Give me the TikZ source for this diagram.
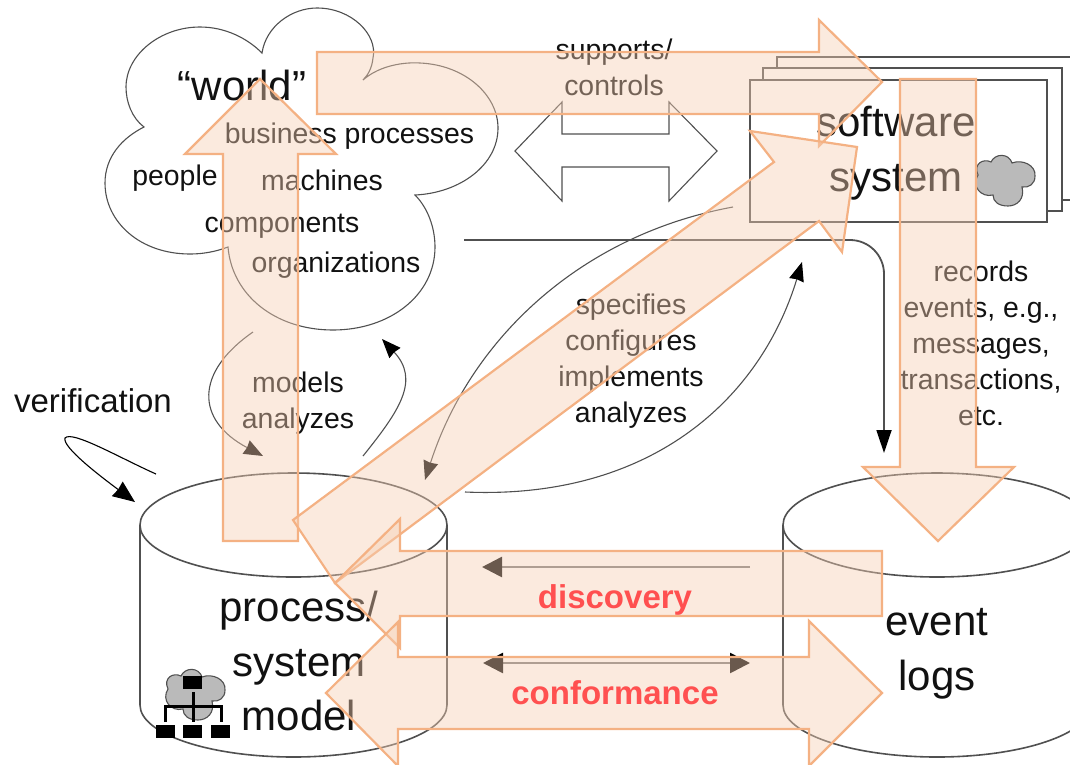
\documentclass[tikz,border=0pt]{standalone}
\usepackage{fontspec}
\setmainfont{Liberation Sans}
\usetikzlibrary{arrows.meta}
\definecolor{txt}{HTML}{111111}
\definecolor{lineg}{HTML}{505050}
\definecolor{midg}{HTML}{7A7A7A}
\definecolor{orangeline}{HTML}{F4B183}
\definecolor{orangefill}{HTML}{F6CFB3}
\definecolor{redlabel}{HTML}{FF5050}
\tikzset{
  outl/.style={draw=lineg,line width=1.1pt},
  big/.style={draw=lineg,line width=1.6pt,fill=white},
  lab/.style={inner sep=0pt,text=txt,align=center,font=\fontsize{28.4}{36}\selectfont},
  biglab/.style={inner sep=0pt,text=txt,align=center,font=\fontsize{42}{54.5}\selectfont},
  redlab/.style={inner sep=0pt,text=redlabel,anchor=base,font=\bfseries\fontsize{33}{36}\selectfont},
  conn/.style={draw=lineg,line width=1.1pt,-{Stealth[length=19pt,width=15pt,inset=1pt,color=black]}},
  thick conn/.style={draw=midg,line width=2.6pt},
  thick tip/.style={arrows={-{Stealth[length=20pt,width=20pt,inset=0pt,color=black]}}},
  both tips/.style={arrows={{Stealth[length=20pt,width=20pt,inset=0pt,color=black]}-{Stealth[length=20pt,width=20pt,inset=0pt,color=black]}}},
  bigarrow/.style={draw=orangeline,line width=2.2pt,line join=miter,fill=orangefill,fill opacity=.43},
  graycloud/.style={draw=lineg,line width=1.1pt,fill=black!27},
  orgbox/.style={fill=black}
}
\newcommand{\iconcloud}{(3,19) .. controls (-2,8) and (8,2) .. (16,6)
  .. controls (20,-3) and (34,-3) .. (37,7)
  .. controls (47,3) and (61,9) .. (60,20)
  .. controls (60,28) and (54,32) .. (47,31)
  .. controls (50,43) and (42,50) .. (33,50)
  .. controls (24,50) and (18,46) .. (18,39)
  .. controls (6,42) and (-4,30) .. (3,19) -- cycle}
\begin{document}
\begin{tikzpicture}[x=1pt,y=-1pt]
\useasboundingbox (0,0) rectangle (1070,764);
\begin{scope}
\clip (0,0) rectangle (1070,764);
% cloud
\draw[outl,fill=white] (262,53) .. controls (266,26) and (292,8) .. (317,8)
  .. controls (352,8) and (378,35) .. (373,58) .. controls (372,68) and (368,75) .. (363,80)
  .. controls (380,65) and (405,62) .. (420,63) .. controls (465,65) and (498,95) .. (498,128)
  .. controls (498,165) and (460,193) .. (415,195)
  .. controls (428,208) and (435,228) .. (435,247) .. controls (435,295) and (390,330) .. (333,330)
  .. controls (275,330) and (232,295) .. (228,247)
  .. controls (215,252) and (202,254) .. (190,254) .. controls (140,254) and (105,222) .. (105,183)
  .. controls (105,157) and (122,138) .. (144,127)
  .. controls (132,118) and (126,102) .. (126,87) .. controls (126,55) and (160,27) .. (200,27)
  .. controls (225,27) and (247,38) .. (262,53) -- cycle;
% software stack
\draw[big] (777,68) -- (777,57) -- (1072,57);
\draw[big] (1062,200) -- (1072,200);
\draw[big] (763,80) -- (763,68) -- (1062,68) -- (1062,211) -- (1047,211);
\draw[big] (750,80) rectangle (1047,222);
\begin{scope}[shift={(975,156)}]
  \draw[graycloud] \iconcloud;
\end{scope}
% white double arrow
\draw[outl,fill=white] (515,151) -- (562,102) -- (562,134) -- (669,134) -- (669,102) -- (717,151)
  -- (669,201) -- (669,167) -- (562,167) -- (562,201) -- cycle;
% cylinders
\draw[big] (140,525) -- (140,705) arc[start angle=180,end angle=0,x radius=153.5,y radius=52] -- (447,525);
\draw[big] (293.5,525) ellipse[x radius=153.5,y radius=52];
\draw[big] (783,525) -- (783,705) arc[start angle=180,end angle=0,x radius=154,y radius=52] -- (1091,525);
\draw[big] (937,525) ellipse[x radius=154,y radius=52];
% icon on model
\begin{scope}[shift={(165,670)}]
  \draw[graycloud] \iconcloud;
\end{scope}
\fill[orgbox] (183,676) rectangle (202,689);
\fill[orgbox] (156,725) rectangle (175,738);
\fill[orgbox] (183,725) rectangle (202,738);
\fill[orgbox] (211,725) rectangle (230,738);
\draw[black,line width=3pt] (193,692) -- (193,722);
\draw[black,line width=3pt] (165,722) -- (165,706) -- (221,706) -- (221,722);
% texts
\node[lab,anchor=base,font=\fontsize{42}{50}\selectfont] (world) at (242,100) {“world”};
\node[lab,anchor=base] (bp) at (349.5,143) {business processes};
\node[lab,anchor=base] (people) at (175,185) {people};
\node[lab,anchor=base] (mach) at (322,190) {machines};
\node[lab,anchor=base] (comp) at (282,232) {components};
\node[lab,anchor=base] (org) at (336,272) {organizations};
\node[lab] (sup) at (614,67) {supports/\\controls};
\node[biglab] (sw) at (896,153) {software\\system};
\node[lab] (mod) at (298,403) {models\\analyzes};
\node[lab,anchor=base,font=\fontsize{33}{36}\selectfont] (ver) at (93,412) {verification};
\node[lab] (spec) at (631,361) {specifies\\configures\\implements\\analyzes};
\node[lab] (rec) at (981,343) {records\\events, e.g.,\\messages,\\transactions,\\etc.};
\node[biglab] (psm) at (299,661) {process/\\system\\model};
\node[biglab] (ev) at (937,654) {event\\logs};
% connectors
\coordinate (a1) at (253,332); \coordinate (a2) at (263,456);
\draw[conn] (a1) .. controls (195,372) and (195,420) .. (a2);
\coordinate (b1) at (363,456); \coordinate (b2) at (382,339);
\draw[conn] (b1) .. controls (400,410) and (420,380) .. (b2);
\coordinate (v1) at (156,474); \coordinate (v2) at (135,502);
\draw[conn,draw=black,arrows={-{Stealth[length=22pt,width=18pt,inset=1pt]}}] (v1) .. controls (120,458) and (72,430) .. (65,438) .. controls (62,447) and (100,476) .. (v2);
\coordinate (c1) at (733,207); \coordinate (c2) at (425,480);
\draw[conn] (c1) .. controls (580,235) and (470,340) .. (c2);
\coordinate (d1) at (465,492); \coordinate (d2) at (802,262);
\draw[conn] (d1) .. controls (650,500) and (760,400) .. (d2);
\coordinate (e1) at (464,240); \coordinate (e2) at (884,453);
\draw[conn,line width=1.8pt,rounded corners=34pt,arrows={-{Stealth[length=23pt,width=15pt,inset=0pt,color=black]}}] (e1) -- (884,240) -- (e2);
\coordinate (f1) at (750,567); \coordinate (f2) at (482,567);
\draw[thick conn,thick tip] (f1) -- (f2);
\coordinate (g1) at (483,663); \coordinate (g2) at (750,663);
\draw[thick conn,both tips] (g1) -- (g2);
% big translucent arrows
\draw[bigarrow] (223,541) -- (223,154) -- (185,154) -- (260,79) -- (336,154) -- (298,154) -- (298,541) -- cycle;
\draw[bigarrow] (317,52) -- (819,52) -- (819,20) -- (882,82) -- (819,146) -- (819,114) -- (317,114) -- cycle;
\draw[bigarrow] (293,520) -- (774,162) -- (750,131) -- (857,147) -- (842,252) -- (819,221) -- (335,583) -- cycle;
\draw[bigarrow] (900,79) -- (976,79) -- (976,467) -- (1014,467) -- (938,541) -- (863,467) -- (900,467) -- cycle;
\draw[bigarrow] (882,551) -- (400,551) -- (400,519) -- (335,583) -- (400,648) -- (400,616) -- (882,616) -- cycle;
\draw[bigarrow] (326,693) -- (398,622) -- (398,657) -- (809,657) -- (809,621) -- (882,693) -- (809,766) -- (809,729) -- (398,729) -- (398,766) -- cycle;
\node[redlab] (disc) at (615,608) {discovery};
\node[redlab] (conf) at (615,704) {conformance};
\end{scope}
\end{tikzpicture}
\end{document}
